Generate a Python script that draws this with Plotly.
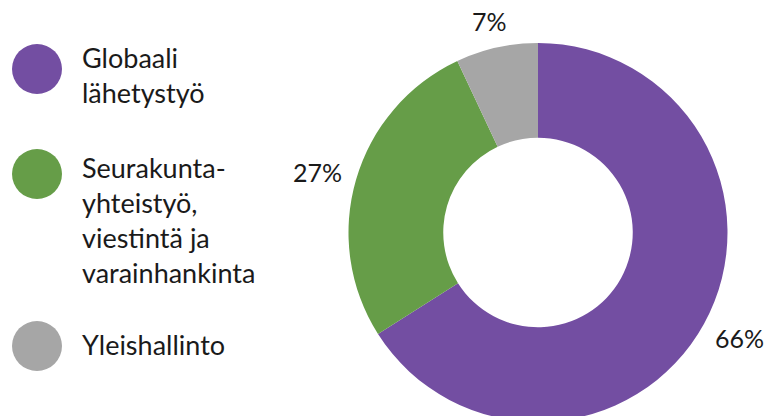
import math
import plotly.graph_objects as go

categories = ["Globaali lähetystyö", "Seurakunta-yhteistyö, viestintä ja varainhankinta", "Yleishallinto"]
legend_labels = ["Globaali<br>lähetystyö", "Seurakunta-<br>yhteistyö,<br>viestintä ja<br>varainhankinta", "Yleishallinto"]
values = [66, 27, 7]
colors = ["#734EA2", "#669D48", "#A6A6A6"]

W, H = 765, 422
FONT = "Lato, 'Open Sans', sans-serif"
TXT = "#1a1a1a"

# pie geometry (pixels)
CX, CY, R = 538, 233, 190
LABEL_R = 205
LABEL_SIZE = 25

# legend layout (pixel positions)
leg_marker_x = 37
leg_marker_y = [69, 174, 346]
leg_text_x = 80
leg_text_y = [75, 220, 344]

fig = go.Figure()

fig.add_trace(go.Pie(
    labels=categories,
    values=values,
    marker=dict(colors=colors, line=dict(width=0)),
    hole=0.5,
    sort=False,
    direction="clockwise",
    rotation=0,
    textinfo="none",
    domain=dict(x=[(CX - R) / W, (CX + R) / W], y=[(H - CY - R) / H if H - CY - R > 0 else 0, 1 - (CY - R) / H]),
    showlegend=False,
    hoverinfo="label+percent",
))

# percentage labels, placed along each slice's mid-angle
total = sum(values)
cum = 0
for v in values:
    mid = (cum + v / 2) / total * 2 * math.pi
    cum += v
    ux, uy = math.sin(mid), -math.cos(mid)
    txt = f"{round(100 * v / total)}%"
    w = 16.5 * len(txt)
    h = LABEL_SIZE
    fig.add_annotation(
        x=CX + LABEL_R * ux + ux * w / 2,
        y=CY + LABEL_R * uy + uy * h / 2,
        xref="x", yref="y", text=txt, showarrow=False,
        xanchor="center", yanchor="middle",
        font=dict(family=FONT, size=LABEL_SIZE, color=TXT),
    )

fig.add_trace(go.Scatter(
    x=[leg_marker_x] * len(categories),
    y=leg_marker_y,
    mode="markers",
    marker=dict(size=50, color=colors, line=dict(width=0)),
    showlegend=False,
    hoverinfo="skip",
    xaxis="x", yaxis="y",
))

for lbl, ty in zip(legend_labels, leg_text_y):
    fig.add_annotation(
        x=leg_text_x, y=ty, xref="x", yref="y",
        text=lbl, showarrow=False, xanchor="left", yanchor="middle", align="left",
        font=dict(family=FONT, size=27, color=TXT),
    )

fig.update_layout(
    width=W, height=H,
    margin=dict(l=0, r=0, t=0, b=0),
    paper_bgcolor="white", plot_bgcolor="rgba(0,0,0,0)",
    xaxis=dict(range=[0, W], domain=[0, 1], visible=False, fixedrange=True),
    yaxis=dict(range=[H, 0], domain=[0, 1], visible=False, fixedrange=True),
    showlegend=False,
)

fig.write_html(
    "out.html",
    config={"displayModeBar": False},
    post_script="document.body.style.margin='0';document.body.style.overflow='hidden';",
)
